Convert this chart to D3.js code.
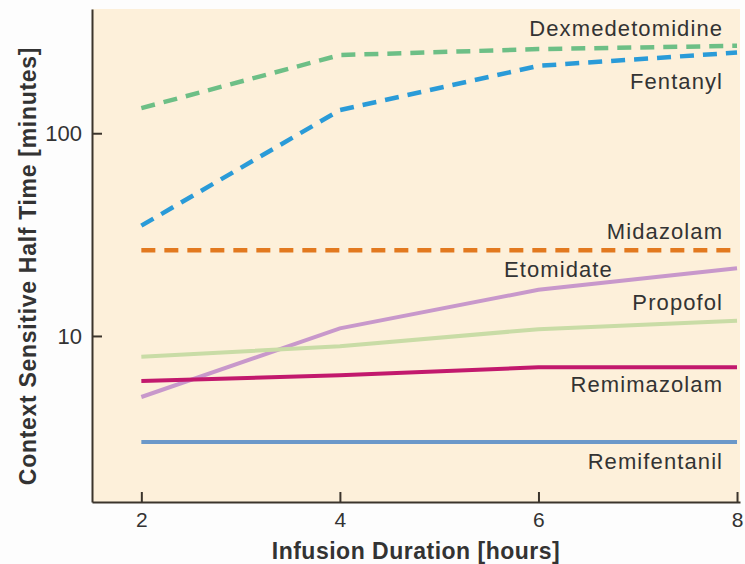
<!DOCTYPE html>
<html>
<head>
<meta charset="utf-8">
<script src="https://cdn.jsdelivr.net/npm/d3@7"></script>
<style>
  body { margin: 0; background: #fdfdfd; }
  svg { display: block; }
</style>
</head>
<body>
<div id="wrapper"></div>
<script>
// data (minutes, log scale)
const hours = [2, 4, 6, 8]
const dexmedetomidine = [133, 243, 260, 270]
const fentanyl = [35, 130, 215, 250]
const midazolam = [26.5, 26.5, 26.5, 26.5]
const etomidate = [5.0, 10.9, 16.9, 21.6]
const propofol = [7.9, 8.9, 10.8, 11.9]
const remimazolam = [6.0, 6.4, 7.0, 7.0]
const remifentanil = [3.0, 3.0, 3.0, 3.0]

const drugNames = ["Dexmedetomidine", "Fentanyl", "Midazolam", "Etomidate", "Propofol", "Remimazolam", "Remifentanil"]
const drugColors = ["#6dbf86", "#2a9bd8", "#e2791f", "#c898cb", "#c9dca6", "#c2196d", "#6b98c9"]
const drugDashed = [true, true, true, false, false, false, false]
// label anchor (right end) in data units: [hours, minutes]
const labelAt = [[7.86, 330], [7.86, 179], [7.86, 32.6], [6.75, 21.2], [7.86, 14.6], [7.86, 5.73], [7.86, 2.39]]

const xTicks = [2, 4, 6, 8]
const yTicks = [10, 100]

function drawChart() {
  const series = [dexmedetomidine, fentanyl, midazolam, etomidate, propofol, remimazolam, remifentanil]

  let dimensions = {
    width: 745,
    height: 564,
    margin: { top: 9, right: 5, bottom: 62, left: 92 },
  }
  dimensions.boundedWidth = dimensions.width - dimensions.margin.left - dimensions.margin.right
  dimensions.boundedHeight = dimensions.height - dimensions.margin.top - dimensions.margin.bottom

  const wrapper = d3.select("#wrapper")
    .append("svg")
      .attr("width", dimensions.width)
      .attr("height", dimensions.height)
      .style("font-family", "'Liberation Sans', Arial, sans-serif")

  const bounds = wrapper.append("g")
      .attr("transform", `translate(${dimensions.margin.left}, ${dimensions.margin.top})`)

  const xScale = d3.scaleLinear()
    .domain([1.503, 8.03])
    .range([0, dimensions.boundedWidth])

  const yScale = d3.scaleLog()
    .domain([1.517, 410])
    .range([dimensions.boundedHeight, 0])

  // background
  bounds.append("rect")
      .attr("width", dimensions.boundedWidth)
      .attr("height", dimensions.boundedHeight)
      .attr("fill", "#fdf0da")

  // lines
  const lineGen = d3.line()
    .x((d, i) => xScale(hours[i]))
    .y(d => yScale(d))

  series.forEach((vals, k) => {
    bounds.append("path")
        .attr("d", lineGen(vals))
        .attr("fill", "none")
        .attr("stroke", drugColors[k])
        .attr("stroke-width", drugDashed[k] ? 4.5 : 4)
        .attr("stroke-dasharray", drugDashed[k] ? "14 9" : null)
  })

  // labels
  bounds.selectAll(".drug-label")
    .data(drugNames)
    .enter().append("text")
      .attr("class", "drug-label")
      .attr("x", (d, i) => xScale(labelAt[i][0]))
      .attr("y", (d, i) => yScale(labelAt[i][1]))
      .attr("text-anchor", "end")
      .attr("dominant-baseline", "central")
      .attr("fill", "#333")
      .style("font-size", "22px")
      .style("letter-spacing", "1.1px")
      .text(d => d)

  // axes (ticks point inward)
  const xAxis = bounds.append("g")
    .attr("transform", `translate(0, ${dimensions.boundedHeight})`)
    .call(d3.axisBottom(xScale).tickValues(xTicks).tickFormat(d3.format("d")).tickSizeInner(-10).tickSizeOuter(0).tickPadding(8))
  xAxis.select(".domain").attr("stroke", "#3b342c").attr("stroke-width", 2)
  xAxis.selectAll(".tick line").attr("stroke", "#3b342c").attr("stroke-width", 2)
  xAxis.selectAll(".tick text")
      .attr("y", 25)
      .attr("dy", null)
      .attr("fill", "#333")
      .style("font-size", "21px")

  const yAxis = bounds.append("g")
    .call(d3.axisLeft(yScale).tickValues(yTicks).tickFormat(d3.format("d")).tickSizeInner(-10).tickSizeOuter(0).tickPadding(10))
  yAxis.select(".domain").attr("stroke", "#3b342c").attr("stroke-width", 2)
  yAxis.selectAll(".tick line").attr("stroke", "#3b342c").attr("stroke-width", 2)
  yAxis.selectAll(".tick text")
      .attr("fill", "#333")
      .style("font-size", "22px")

  // axis titles
  wrapper.append("text")
      .attr("x", dimensions.margin.left + dimensions.boundedWidth / 2)
      .attr("y", 559)
      .attr("text-anchor", "middle")
      .attr("fill", "#333")
      .style("font-size", "23px")
      .style("font-weight", "bold")
      .style("letter-spacing", "0.5px")
      .text("Infusion Duration [hours]")

  wrapper.append("text")
      .attr("transform", `translate(36, 266) rotate(-90)`)
      .attr("text-anchor", "middle")
      .attr("fill", "#333")
      .style("font-size", "23px")
      .style("font-weight", "bold")
      .style("letter-spacing", "0.7px")
      .text("Context Sensitive Half Time [minutes]")
}
drawChart()
</script>
</body>
</html>
